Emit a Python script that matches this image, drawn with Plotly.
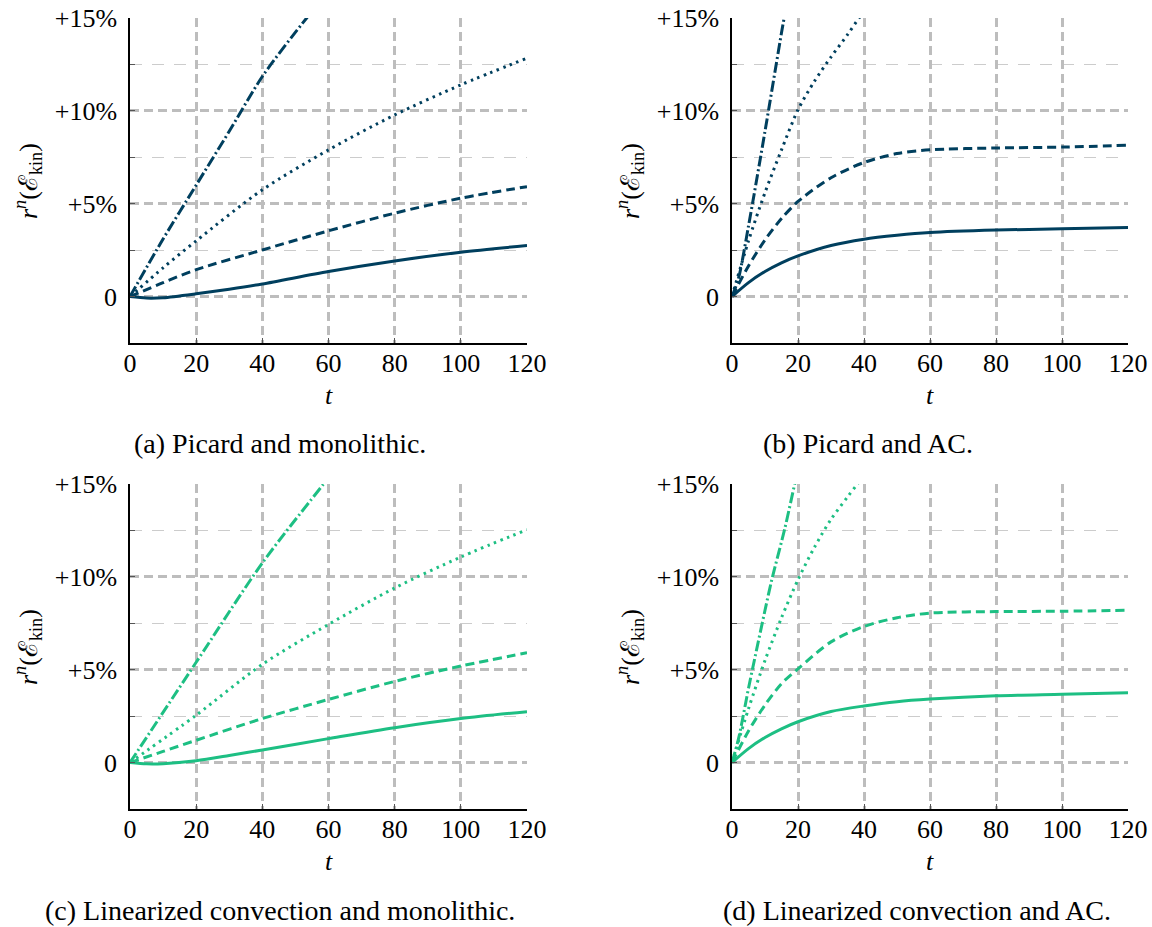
import plotly.graph_objects as go

BLUE = '#003f5e'
GREEN = '#1dbf83'
GRID = '#bdbdbd'
FONT = 'Liberation Serif'

Y_TICKS = [0, 5, 10, 15]
Y_TICK_TEXT = ['0', '+5%', '+10%', '+15%']
X_TICKS = [0, 20, 40, 60, 80, 100, 120]

# (a) Picard and monolithic
a_solid_t = [0, 5, 10, 20, 30, 40, 60, 80, 100, 120]
a_solid = [0, -0.08, -0.06, 0.15, 0.4, 0.68, 1.35, 1.92, 2.39, 2.75]
a_dashed_t = [0, 10, 20, 40, 60, 80, 100, 120]
a_dashed = [0, 0.75, 1.45, 2.51, 3.54, 4.49, 5.3, 5.92]
a_dotted_t = [0, 10, 20, 40, 60, 80, 100, 120]
a_dotted = [0, 1.55, 3.0, 5.75, 7.9, 9.78, 11.4, 12.84]
a_dashdot_t = [0, 10, 20, 30, 40, 53.4, 60]
a_dashdot = [0, 3.1, 6.0, 8.9, 11.85, 15.0, 16.4]

# (b) Picard and AC
b_solid_t = [0, 5, 10, 15, 20, 30, 40, 50, 60, 80, 100, 120]
b_solid = [0, 0.75, 1.35, 1.82, 2.19, 2.75, 3.09, 3.3, 3.45, 3.58, 3.65, 3.72]
b_dashed_t = [0, 5, 10, 15, 20, 30, 40, 50, 60, 80, 100, 120]
b_dashed = [0, 1.65, 3.05, 4.2, 5.12, 6.4, 7.22, 7.7, 7.9, 8.0, 8.05, 8.15]
b_dotted_t = [0, 5, 10, 15, 20, 25, 30, 35, 38.5, 42]
b_dotted = [0, 3.0, 5.6, 7.9, 10.06, 11.6, 12.9, 14.1, 15.0, 15.8]
b_dashdot_t = [0, 2, 5, 10, 15, 15.8, 18]
b_dashdot = [0, 1.0, 3.8, 8.9, 14.2, 15.0, 17.0]

# (c) Linearized convection and monolithic
c_solid_t = [0, 5, 10, 20, 30, 40, 60, 80, 100, 120]
c_solid = [0, -0.07, -0.06, 0.1, 0.38, 0.68, 1.29, 1.88, 2.37, 2.74]
c_dashed_t = [0, 10, 20, 40, 60, 80, 100, 120]
c_dashed = [0, 0.6, 1.2, 2.37, 3.4, 4.37, 5.2, 5.91]
c_dotted_t = [0, 20, 40, 60, 80, 100, 120]
c_dotted = [0, 2.55, 5.29, 7.44, 9.4, 11.07, 12.54]
c_dashdot_t = [0, 20, 40, 58.5, 62]
c_dashdot = [0, 5.4, 10.75, 15.0, 15.8]

# (d) Linearized convection and AC
d_solid_t = [0, 5, 10, 15, 20, 30, 40, 50, 60, 80, 100, 120]
d_solid = [0, 0.75, 1.35, 1.82, 2.2, 2.75, 3.05, 3.28, 3.42, 3.6, 3.68, 3.76]
d_dashed_t = [0, 5, 10, 15, 20, 30, 40, 50, 60, 80, 100, 120]
d_dashed = [0, 1.7, 3.1, 4.25, 5.05, 6.5, 7.33, 7.8, 8.05, 8.13, 8.15, 8.2]
d_dotted_t = [0, 5, 10, 15, 20, 25, 30, 35, 38, 42]
d_dotted = [0, 2.9, 5.5, 7.8, 9.85, 11.6, 13.1, 14.3, 15.0, 15.9]
d_dashdot_t = [0, 2, 5, 7, 10, 12, 16, 19, 21]
d_dashdot = [0, 1.3, 4.0, 5.7, 8.2, 9.8, 12.6, 15.0, 16.5]

CAPTIONS = ['(a) Picard and monolithic.', '(b) Picard and AC.',
            '(c) Linearized convection and monolithic.', '(d) Linearized convection and AC.']

W, H = 1152, 927


def px_x(p):
    return p / W


def px_y(p):
    return 1 - p / H


panels = [
    dict(color=BLUE, series=[(a_solid_t, a_solid), (a_dashed_t, a_dashed), (a_dotted_t, a_dotted), (a_dashdot_t, a_dashdot)],
         x=(130, 527), y=(18, 343), cap=(280, 443)),
    dict(color=BLUE, series=[(b_solid_t, b_solid), (b_dashed_t, b_dashed), (b_dotted_t, b_dotted), (b_dashdot_t, b_dashdot)],
         x=(732, 1128), y=(18, 343), cap=(868, 443)),
    dict(color=GREEN, series=[(c_solid_t, c_solid), (c_dashed_t, c_dashed), (c_dotted_t, c_dotted), (c_dashdot_t, c_dashdot)],
         x=(130, 527), y=(484, 809), cap=(280, 910)),
    dict(color=GREEN, series=[(d_solid_t, d_solid), (d_dashed_t, d_dashed), (d_dotted_t, d_dotted), (d_dashdot_t, d_dashdot)],
         x=(732, 1128), y=(484, 809), cap=(917, 910)),
]

DASHES = ['solid', '9px,5px', '2.5px,4.5px', '11px,3px,2px,3px']

fig = go.Figure()
annotations = []
for i, p in enumerate(panels):
    n = '' if i == 0 else str(i + 1)
    for (t, v), dash in zip(p['series'], DASHES):
        fig.add_trace(go.Scatter(
            x=t, y=v, mode='lines', xaxis='x' + n, yaxis='y' + n,
            line=dict(color=p['color'], width=3, dash=dash, shape='spline', smoothing=0.8),
            showlegend=False, hoverinfo='skip'))

    fig.update_layout(**{
        'xaxis' + n: dict(
            domain=[px_x(p['x'][0]), px_x(p['x'][1])], anchor='y' + n, automargin=False,
            range=[0, 120.001], tickvals=X_TICKS, showgrid=True, gridcolor=GRID, gridwidth=2.5,
            griddash='9px,5px', zeroline=False, showline=True, linecolor='black', linewidth=1.5,
            ticks='inside', ticklen=5, tickcolor='#555555', ticklabelstandoff=-4,
            tickfont=dict(family=FONT, size=26, color='black')),
        'yaxis' + n: dict(
            domain=[px_y(p['y'][1]), px_y(p['y'][0])], anchor='x' + n, automargin=False,
            range=[-2.5, 15.001], tickvals=Y_TICKS, ticktext=Y_TICK_TEXT, showgrid=True,
            gridcolor=GRID, gridwidth=2.5, griddash='9px,5px', zeroline=False,
            showline=True, linecolor='black', linewidth=1.5,
            ticks='inside', ticklen=5, tickcolor='#555555', ticklabelstandoff=6,
            tickfont=dict(family=FONT, size=26, color='black'),
            minor=dict(tickvals=[-2.5, 2.5, 7.5, 12.5], showgrid=True, gridcolor='#cccccc',
                       gridwidth=1.2, griddash='12px,10px', ticks='inside', ticklen=5,
                       tickcolor='#555555')),
    })

    xc = (p['x'][0] + p['x'][1]) / 2
    annotations.append(dict(x=px_x(xc), y=px_y(p['y'][1] + 52), xref='paper', yref='paper',
                            xanchor='center', yanchor='middle',
                            text='<i>t</i>', showarrow=False,
                            font=dict(family=FONT, size=26, color='black')))
    annotations.append(dict(x=px_x(p['x'][0] - 102), y=px_y(p['y'][0] + 163), xref='paper', yref='paper',
                            xanchor='center', yanchor='middle',
                            text='<i>r</i><sup><i>n</i></sup>(ℰ<sub>kin</sub>)', showarrow=False,
                            textangle=-90, font=dict(family=FONT, size=26, color='black')))
    annotations.append(dict(x=px_x(p['cap'][0]), y=px_y(p['cap'][1]), xref='paper', yref='paper',
                            xanchor='center', yanchor='middle',
                            text=CAPTIONS[i], showarrow=False,
                            font=dict(family=FONT, size=28, color='black')))

fig.update_layout(
    width=W, height=H, margin=dict(l=0, r=0, t=0, b=0, pad=0),
    plot_bgcolor='white', paper_bgcolor='white',
    annotations=annotations, showlegend=False,
)

fig.write_html('out.html', config={'displayModeBar': False},
               post_script="document.body.style.margin='0';document.body.style.overflow='hidden';")
